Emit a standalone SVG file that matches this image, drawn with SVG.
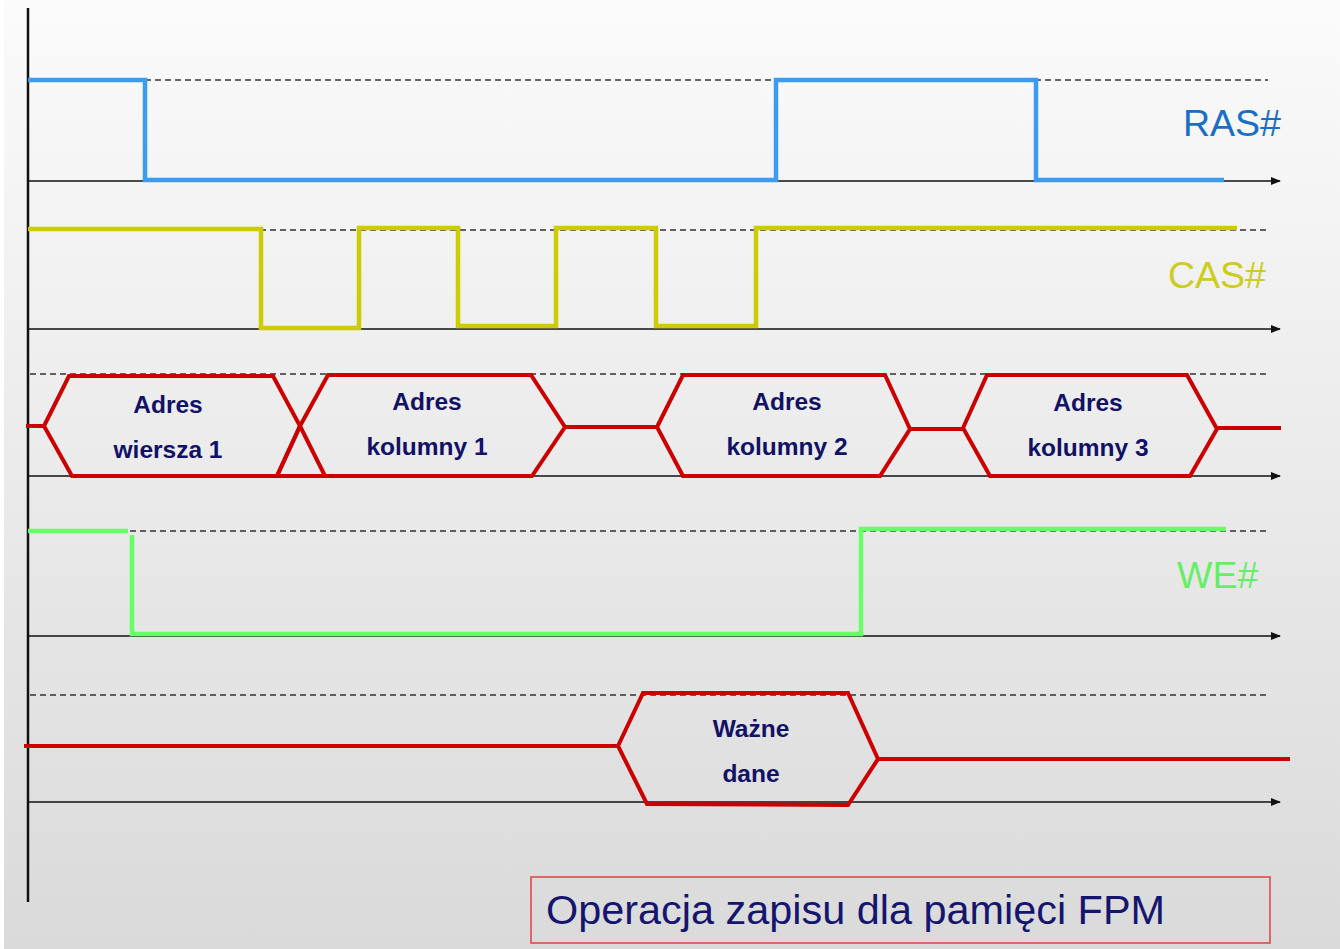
<svg xmlns="http://www.w3.org/2000/svg" width="1340" height="949" viewBox="0 0 1340 949">
<defs>
<linearGradient id="bg" x1="0" y1="0" x2="0" y2="1">
<stop offset="0" stop-color="#fbfbfb"/>
<stop offset="1" stop-color="#dadada"/>
</linearGradient>
<marker id="arr" markerWidth="10" markerHeight="8" refX="9" refY="4" orient="auto" markerUnits="userSpaceOnUse">
<path d="M0,0 L10,4 L0,8 Z" fill="#111"/>
</marker>
<style>
.axis{stroke:#111;stroke-width:1.4;fill:none}
.dash{stroke:#333;stroke-width:1.3;stroke-dasharray:6 4;fill:none}
.sig{fill:none;stroke-width:4.5;stroke-linejoin:miter;stroke-linecap:butt}
.ras{stroke:#3d9cf0}
.cas{stroke:#cccc00}
.we{stroke:#66ff66}
.bus{stroke:#cc0000;fill:none;stroke-width:4}
.lbl{font-family:"Liberation Sans",Arial,sans-serif;font-size:37.5px}
.bt{font-family:"Liberation Sans",Arial,sans-serif;font-size:24.5px;font-weight:bold;fill:#111166;text-anchor:middle}
</style>
</defs>
<rect x="0" y="0" width="1340" height="949" fill="url(#bg)"/>
<rect x="0" y="0" width="4" height="949" fill="#ffffff"/>

<g id="connectors">
<line x1="28" y1="8" x2="28" y2="902" stroke="#111" stroke-width="2.5"/>
<line class="axis" x1="28" y1="181" x2="1280" y2="181" marker-end="url(#arr)"/>
<line class="axis" x1="28" y1="329" x2="1280" y2="329" marker-end="url(#arr)"/>
<line class="axis" x1="28" y1="476" x2="1280" y2="476" marker-end="url(#arr)"/>
<line class="axis" x1="28" y1="636" x2="1280" y2="636" marker-end="url(#arr)"/>
<line class="axis" x1="28" y1="802" x2="1280" y2="802" marker-end="url(#arr)"/>
<line class="dash" x1="145" y1="80" x2="1268" y2="80"/>
<line class="dash" x1="260" y1="230" x2="1268" y2="230"/>
<line class="dash" x1="30" y1="374" x2="1268" y2="374"/>
<line class="dash" x1="130" y1="531" x2="1270" y2="531"/>
<line class="dash" x1="30" y1="695" x2="1270" y2="695"/>
</g>

<g id="ras">
<polyline class="sig ras" points="28,80 145,80 145,180 776,180 776,80 1036,80 1036,180 1224,180"/>
<text class="lbl" x="1183" y="136" fill="#1a6fc4">RAS#</text>
</g>

<g id="cas">
<polyline class="sig cas" points="28,229 261,229 261,328 359,328 359,228 458,228 458,326 556,326 556,228 656,228 656,326 756,326 756,228 1237,228"/>
<text class="lbl" x="1168" y="288" fill="#cccc22">CAS#</text>
</g>

<g id="address">
<line class="bus" x1="26" y1="426" x2="44" y2="426"/>
<polyline class="bus" points="326,476 277,476 300,426"/>
<polygon class="bus" points="44,426 69,376 273,376 300,426 277,476 72,476"/>
<polygon class="bus" points="300,426 328,375 531,375 565,427 532,476 325,476"/>
<line class="bus" x1="565" y1="427" x2="657" y2="427"/>
<polygon class="bus" points="657,427 683,375 885,375 910,429 880,476 683,476"/>
<line class="bus" x1="910" y1="429" x2="963" y2="429"/>
<polygon class="bus" points="963,428 987,375 1187,375 1217,429 1190,476 990,476"/>
<line class="bus" x1="1217" y1="428" x2="1281" y2="428"/>
<text class="bt" x="168" y="413">Adres</text>
<text class="bt" x="168" y="458">wiersza 1</text>
<text class="bt" x="427" y="410">Adres</text>
<text class="bt" x="427" y="455">kolumny 1</text>
<text class="bt" x="787" y="410">Adres</text>
<text class="bt" x="787" y="455">kolumny 2</text>
<text class="bt" x="1088" y="411">Adres</text>
<text class="bt" x="1088" y="456">kolumny 3</text>
</g>

<g id="we">
<polyline class="sig we" points="28,531 128,531"/>
<polyline class="sig we" points="132,535 132,634 861,634 861,529 1226,529"/>
<text class="lbl" x="1177" y="588" fill="#66ee66">WE#</text>
</g>

<g id="data">
<line class="bus" x1="24" y1="746" x2="618" y2="746"/>
<polygon class="bus" points="618,746 643,693 848,693 878,759 848,805 647,804"/>
<line class="bus" x1="878" y1="759" x2="1290" y2="759"/>
<text class="bt" x="751" y="737">Ważne</text>
<text class="bt" x="751" y="782">dane</text>
</g>

<g id="title">
<rect x="531" y="877" width="739" height="66" fill="none" stroke="#e04040" stroke-width="1.5"/>
<text x="546" y="924" font-family="Liberation Sans, Arial, sans-serif" font-size="40" fill="#151570" textLength="619" lengthAdjust="spacingAndGlyphs">Operacja zapisu dla pamięci FPM</text>
</g>
</svg>
